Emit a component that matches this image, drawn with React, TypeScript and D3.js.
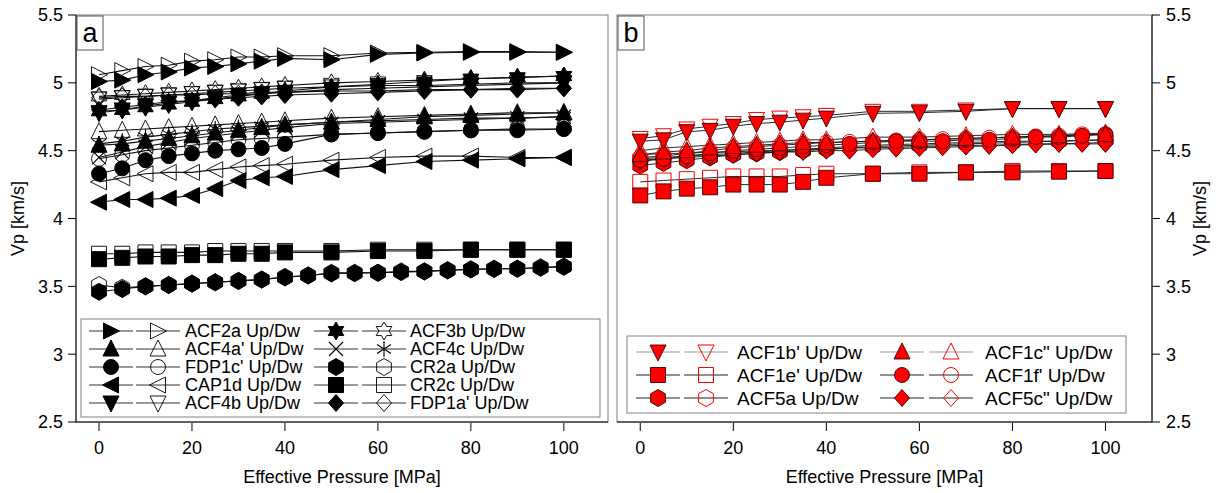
import React from 'react';
import * as d3 from 'd3';

// ---------- pressures ----------
const P_STD = [0, 5, 10, 15, 20, 25, 30, 35, 40, 50, 60, 70, 80, 90, 100];
const P_ALL = [0, 5, 10, 15, 20, 25, 30, 35, 40, 45, 50, 55, 60, 65, 70, 75, 80, 85, 90, 95, 100];

// ---------- panel a values (km/s) ----------
const ACF2a_up = [5.01, 5.02, 5.06, 5.08, 5.11, 5.12, 5.14, 5.16, 5.18, 5.17, 5.21, 5.22, 5.225, 5.225, 5.225];
const ACF2a_dw = [5.06, 5.09, 5.12, 5.13, 5.16, 5.17, 5.19, 5.19, 5.2, 5.2, 5.22, 5.225, 5.23, 5.23, 5.225];
const ACF4a_up = [4.54, 4.55, 4.57, 4.59, 4.61, 4.63, 4.65, 4.67, 4.69, 4.71, 4.73, 4.75, 4.76, 4.77, 4.78];
const ACF4a_dw = [4.64, 4.65, 4.66, 4.67, 4.68, 4.69, 4.7, 4.71, 4.72, 4.74, 4.75, 4.76, 4.77, 4.78, 4.78];
const FDP1c_up = [4.33, 4.37, 4.43, 4.46, 4.48, 4.5, 4.51, 4.52, 4.55, 4.62, 4.63, 4.64, 4.65, 4.65, 4.66];
const FDP1c_dw = [4.44, 4.47, 4.5, 4.52, 4.54, 4.56, 4.58, 4.59, 4.6, 4.62, 4.63, 4.64, 4.65, 4.66, 4.66];
const CAP1d_up = [4.12, 4.14, 4.14, 4.15, 4.17, 4.22, 4.28, 4.3, 4.31, 4.36, 4.39, 4.42, 4.43, 4.44, 4.45];
const CAP1d_dw = [4.27, 4.3, 4.33, 4.34, 4.34, 4.36, 4.38, 4.39, 4.4, 4.43, 4.45, 4.46, 4.46, 4.45, 4.45];
const ACF4b_up = [4.78, 4.8, 4.83, 4.85, 4.87, 4.89, 4.91, 4.92, 4.93, 4.95, 4.96, 4.97, 4.98, 4.99, 5.0];
const ACF4b_dw = [4.88, 4.89, 4.9, 4.91, 4.92, 4.93, 4.94, 4.95, 4.96, 4.97, 4.98, 4.98, 4.99, 5.0, 5.0];
const ACF3b_up = [4.79, 4.8, 4.82, 4.84, 4.86, 4.88, 4.9, 4.92, 4.94, 4.97, 4.99, 5.01, 5.03, 5.04, 5.05];
const ACF3b_dw = [4.9, 4.91, 4.92, 4.93, 4.94, 4.95, 4.96, 4.97, 4.98, 5.0, 5.01, 5.02, 5.03, 5.04, 5.05];
const ACF4c_up = [4.45, 4.49, 4.53, 4.56, 4.59, 4.61, 4.63, 4.65, 4.67, 4.7, 4.71, 4.72, 4.73, 4.74, 4.75];
const ACF4c_dw = [4.55, 4.57, 4.6, 4.62, 4.64, 4.66, 4.67, 4.68, 4.69, 4.71, 4.72, 4.73, 4.74, 4.74, 4.75];
const CR2a_up = [3.46, 3.48, 3.5, 3.51, 3.52, 3.53, 3.54, 3.55, 3.565, 3.58, 3.595, 3.597, 3.6, 3.605, 3.61, 3.617, 3.625, 3.628, 3.63, 3.637, 3.645];
const CR2a_dw = [3.51, 3.49, 3.5, 3.51, 3.52, 3.53, 3.54, 3.55, 3.57, 3.58, 3.6, 3.6, 3.6, 3.61, 3.61, 3.62, 3.625, 3.63, 3.63, 3.64, 3.645];
const CR2c_up = [3.7, 3.71, 3.72, 3.72, 3.73, 3.73, 3.74, 3.74, 3.75, 3.75, 3.76, 3.76, 3.77, 3.77, 3.77];
const CR2c_dw = [3.74, 3.74, 3.75, 3.75, 3.75, 3.76, 3.76, 3.76, 3.76, 3.76, 3.77, 3.77, 3.77, 3.77, 3.77];
const FDP1a_up = [4.8, 4.82, 4.84, 4.86, 4.87, 4.88, 4.89, 4.9, 4.91, 4.92, 4.93, 4.94, 4.95, 4.95, 4.96];
const FDP1a_dw = [4.89, 4.9, 4.9, 4.91, 4.91, 4.92, 4.92, 4.93, 4.93, 4.94, 4.94, 4.95, 4.95, 4.96, 4.96];

// ---------- panel b values (km/s) ----------
const ACF1b_up = [4.57, 4.58, 4.64, 4.65, 4.68, 4.7, 4.71, 4.725, 4.74, 4.775, 4.78, 4.79, 4.81, 4.81, 4.81];
const ACF1b_dw = [4.59, 4.61, 4.66, 4.68, 4.7, 4.73, 4.74, 4.75, 4.76, 4.79, 4.79, 4.8, 4.81, 4.81, 4.81];
const ACF1e_up = [4.17, 4.2, 4.22, 4.23, 4.25, 4.25, 4.25, 4.27, 4.3, 4.33, 4.33, 4.34, 4.34, 4.345, 4.35];
const ACF1e_dw = [4.27, 4.28, 4.29, 4.3, 4.31, 4.31, 4.31, 4.32, 4.33, 4.33, 4.34, 4.34, 4.35, 4.35, 4.35];
const ACF5a_up = [4.39, 4.41, 4.43, 4.45, 4.47, 4.48, 4.49, 4.5, 4.51, 4.53, 4.54, 4.55, 4.56, 4.57, 4.58];
const ACF5a_dw = [4.44, 4.45, 4.46, 4.47, 4.48, 4.49, 4.5, 4.51, 4.52, 4.54, 4.55, 4.56, 4.57, 4.57, 4.58];
const ACF1c_up = [4.47, 4.49, 4.5, 4.52, 4.53, 4.54, 4.55, 4.56, 4.56, 4.57, 4.58, 4.59, 4.6, 4.61, 4.62];
const ACF1c_dw = [4.5, 4.52, 4.53, 4.54, 4.55, 4.56, 4.57, 4.58, 4.58, 4.6, 4.6, 4.61, 4.62, 4.62, 4.63];
const ACF1f_up = [4.43, 4.44, 4.46, 4.48, 4.5, 4.51, 4.52, 4.53, 4.54, 4.55, 4.56, 4.57, 4.57, 4.57, 4.58, 4.58, 4.59, 4.6, 4.6, 4.61, 4.62];
const ACF1f_dw = [4.45, 4.46, 4.48, 4.5, 4.52, 4.53, 4.54, 4.55, 4.56, 4.565, 4.57, 4.575, 4.58, 4.585, 4.59, 4.595, 4.6, 4.605, 4.61, 4.62, 4.62];
const ACF5c_up = [4.42, 4.44, 4.45, 4.46, 4.47, 4.48, 4.49, 4.49, 4.5, 4.5, 4.51, 4.515, 4.52, 4.525, 4.53, 4.535, 4.54, 4.545, 4.55, 4.55, 4.55];
const ACF5c_dw = [4.47, 4.48, 4.48, 4.49, 4.49, 4.5, 4.5, 4.51, 4.51, 4.52, 4.52, 4.525, 4.53, 4.535, 4.54, 4.54, 4.545, 4.55, 4.55, 4.555, 4.56];

// ---------- ticks ----------
const Y_TICKS = [2.5, 3, 3.5, 4, 4.5, 5, 5.5];
const X_TICKS = [0, 20, 40, 60, 80, 100];

type Shape = 'triR' | 'triL' | 'triU' | 'triD' | 'circle' | 'square' | 'hex' | 'diamond' | 'star' | 'cross' | 'aster';

interface Series {
  label: string;
  p: number[];
  v: number[];
  shape: Shape;
  filled: boolean;
}

const seriesA: Series[] = [
  { label: 'ACF3b', p: P_STD, v: ACF3b_dw, shape: 'star', filled: false },
  { label: 'ACF3b', p: P_STD, v: ACF3b_up, shape: 'star', filled: true },
  { label: 'ACF4b', p: P_STD, v: ACF4b_dw, shape: 'triD', filled: false },
  { label: 'ACF4b', p: P_STD, v: ACF4b_up, shape: 'triD', filled: true },
  { label: 'FDP1a\'', p: P_STD, v: FDP1a_dw, shape: 'diamond', filled: false },
  { label: 'FDP1a\'', p: P_STD, v: FDP1a_up, shape: 'diamond', filled: true },
  { label: 'ACF2a', p: P_STD, v: ACF2a_dw, shape: 'triR', filled: false },
  { label: 'ACF2a', p: P_STD, v: ACF2a_up, shape: 'triR', filled: true },
  { label: 'ACF4a\'', p: P_STD, v: ACF4a_dw, shape: 'triU', filled: false },
  { label: 'ACF4a\'', p: P_STD, v: ACF4a_up, shape: 'triU', filled: true },
  { label: 'ACF4c', p: P_STD, v: ACF4c_dw, shape: 'aster', filled: false },
  { label: 'ACF4c', p: P_STD, v: ACF4c_up, shape: 'cross', filled: true },
  { label: 'FDP1c\'', p: P_STD, v: FDP1c_dw, shape: 'circle', filled: false },
  { label: 'FDP1c\'', p: P_STD, v: FDP1c_up, shape: 'circle', filled: true },
  { label: 'CAP1d', p: P_STD, v: CAP1d_dw, shape: 'triL', filled: false },
  { label: 'CAP1d', p: P_STD, v: CAP1d_up, shape: 'triL', filled: true },
  { label: 'CR2c', p: P_STD, v: CR2c_dw, shape: 'square', filled: false },
  { label: 'CR2c', p: P_STD, v: CR2c_up, shape: 'square', filled: true },
  { label: 'CR2a', p: P_ALL, v: CR2a_dw, shape: 'hex', filled: false },
  { label: 'CR2a', p: P_ALL, v: CR2a_up, shape: 'hex', filled: true },
];

const seriesB: Series[] = [
  { label: 'ACF1e\'', p: P_STD, v: ACF1e_dw, shape: 'square', filled: false },
  { label: 'ACF1e\'', p: P_STD, v: ACF1e_up, shape: 'square', filled: true },
  { label: 'ACF5a', p: P_STD, v: ACF5a_dw, shape: 'hex', filled: false },
  { label: 'ACF5a', p: P_STD, v: ACF5a_up, shape: 'hex', filled: true },
  { label: 'ACF5c"', p: P_ALL, v: ACF5c_dw, shape: 'diamond', filled: false },
  { label: 'ACF5c"', p: P_ALL, v: ACF5c_up, shape: 'diamond', filled: true },
  { label: 'ACF1f\'', p: P_ALL, v: ACF1f_dw, shape: 'circle', filled: false },
  { label: 'ACF1f\'', p: P_ALL, v: ACF1f_up, shape: 'circle', filled: true },
  { label: 'ACF1c"', p: P_STD, v: ACF1c_dw, shape: 'triU', filled: false },
  { label: 'ACF1c"', p: P_STD, v: ACF1c_up, shape: 'triU', filled: true },
  { label: 'ACF1b\'', p: P_STD, v: ACF1b_dw, shape: 'triD', filled: false },
  { label: 'ACF1b\'', p: P_STD, v: ACF1b_up, shape: 'triD', filled: true },
];

const legendA: { name: string; shape: Shape; shapeOpen: Shape }[][] = [
  [
    { name: 'ACF2a Up/Dw', shape: 'triR', shapeOpen: 'triR' },
    { name: 'ACF4a\' Up/Dw', shape: 'triU', shapeOpen: 'triU' },
    { name: 'FDP1c\' Up/Dw', shape: 'circle', shapeOpen: 'circle' },
    { name: 'CAP1d Up/Dw', shape: 'triL', shapeOpen: 'triL' },
    { name: 'ACF4b Up/Dw', shape: 'triD', shapeOpen: 'triD' },
  ],
  [
    { name: 'ACF3b Up/Dw', shape: 'star', shapeOpen: 'star' },
    { name: 'ACF4c Up/Dw', shape: 'cross', shapeOpen: 'aster' },
    { name: 'CR2a Up/Dw', shape: 'hex', shapeOpen: 'hex' },
    { name: 'CR2c Up/Dw', shape: 'square', shapeOpen: 'square' },
    { name: 'FDP1a\' Up/Dw', shape: 'diamond', shapeOpen: 'diamond' },
  ],
];

const legendB: { name: string; shape: Shape; grey: boolean }[][] = [
  [
    { name: 'ACF1b\' Up/Dw', shape: 'triD', grey: true },
    { name: 'ACF1e\' Up/Dw', shape: 'square', grey: false },
    { name: 'ACF5a Up/Dw', shape: 'hex', grey: false },
  ],
  [
    { name: 'ACF1c" Up/Dw', shape: 'triU', grey: true },
    { name: 'ACF1f\' Up/Dw', shape: 'circle', grey: false },
    { name: 'ACF5c" Up/Dw', shape: 'diamond', grey: false },
  ],
];

function shapePath(s: Shape, k = 1): string {
  const p = d3.path();
  const poly = (pts: [number, number][]) => {
    pts.forEach(([x, y], i) => (i === 0 ? p.moveTo(x * k, y * k) : p.lineTo(x * k, y * k)));
    p.closePath();
  };
  switch (s) {
    case 'triR':
      poly([[-7.5, -8], [8.5, 0], [-7.5, 8]]);
      break;
    case 'triL':
      poly([[7.5, -8], [-8.5, 0], [7.5, 8]]);
      break;
    case 'triU':
      poly([[0, -9], [8, 7], [-8, 7]]);
      break;
    case 'triD':
      poly([[0, 9], [8, -7], [-8, -7]]);
      break;
    case 'circle':
      p.arc(0, 0, 7.5 * k, 0, Math.PI * 2);
      p.closePath();
      break;
    case 'square':
      poly([[-7.5, -7.5], [7.5, -7.5], [7.5, 7.5], [-7.5, 7.5]]);
      break;
    case 'hex': {
      const pts: [number, number][] = [];
      for (let i = 0; i < 6; i++) {
        const a = -Math.PI / 2 + (i * Math.PI) / 3;
        pts.push([8.5 * Math.cos(a), 8.5 * Math.sin(a)]);
      }
      poly(pts);
      break;
    }
    case 'diamond':
      poly([[0, -8.5], [7.5, 0], [0, 8.5], [-7.5, 0]]);
      break;
    case 'star': {
      const pts: [number, number][] = [];
      for (let i = 0; i < 12; i++) {
        const a = -Math.PI / 2 + (i * Math.PI) / 6;
        const r = i % 2 === 0 ? 9 : 5.2;
        pts.push([r * Math.cos(a), r * Math.sin(a)]);
      }
      poly(pts);
      break;
    }
    case 'cross':
      p.moveTo(-7 * k, -7 * k);
      p.lineTo(7 * k, 7 * k);
      p.moveTo(-7 * k, 7 * k);
      p.lineTo(7 * k, -7 * k);
      break;
    case 'aster':
      p.moveTo(0, -8 * k);
      p.lineTo(0, 8 * k);
      p.moveTo(-7 * k, -4.5 * k);
      p.lineTo(7 * k, 4.5 * k);
      p.moveTo(-7 * k, 4.5 * k);
      p.lineTo(7 * k, -4.5 * k);
      break;
  }
  return p.toString();
}

const FONT = "'Liberation Sans', Arial, Helvetica, sans-serif";
const RED = '#ff0000';

function Marker({ x, y, shape, filled, red }: { x: number; y: number; shape: Shape; filled: boolean; red: boolean }) {
  const lineOnly = shape === 'cross' || shape === 'aster';
  let fill = 'none';
  let stroke = '#000';
  let sw = 1;
  if (red) {
    if (filled) {
      fill = RED;
      stroke = '#3a0000';
      sw = 0.9;
    } else {
      fill = 'none';
      stroke = RED;
      sw = 1;
    }
  } else {
    if (filled && !lineOnly) {
      fill = '#000';
      stroke = '#000';
    } else {
      fill = 'none';
      stroke = '#000';
      sw = lineOnly ? 1.1 : 0.9;
    }
  }
  return <path d={shapePath(shape)} transform={`translate(${x},${y})`} fill={fill} stroke={stroke} strokeWidth={sw} />;
}

function Panel({
  series,
  red,
  x0,
  x1,
  xDomain,
  yAxisRight,
  label,
}: {
  series: Series[];
  red: boolean;
  x0: number;
  x1: number;
  xDomain: [number, number];
  yAxisRight: boolean;
  label: string;
}) {
  const top = 15;
  const bottom = 422;
  const x = d3.scaleLinear().domain(xDomain).range([x0, x1]);
  const y = d3.scaleLinear().domain([2.5, 5.5]).range([bottom, top]);
  const line = d3
    .line<[number, number]>()
    .x((d) => x(d[0]))
    .y((d) => y(d[1]));
  const axisX = yAxisRight ? x1 : x0;
  const fmt = (v: number) => (Number.isInteger(v) ? String(v) : v.toFixed(1));
  return (
    <g>
      {/* frame */}
      <rect x={x0} y={top} width={x1 - x0} height={bottom - top} fill="none" stroke="#808080" strokeWidth={1} />
      {/* series lines */}
      {series.map((s, i) => (
        <path
          key={'l' + i}
          d={line(s.p.map((p, j) => [p, s.v[j]] as [number, number])) || ''}
          fill="none"
          stroke={red ? '#111' : '#111'}
          strokeWidth={red ? 0.9 : 1.1}
        />
      ))}
      {/* markers */}
      {series.map((s, i) => (
        <g key={'m' + i}>
          {s.p.map((p, j) => (
            <Marker key={j} x={x(p)} y={y(s.v[j])} shape={s.shape} filled={s.filled} red={red} />
          ))}
        </g>
      ))}
      {/* axes */}
      <line x1={axisX} x2={axisX} y1={top} y2={bottom} stroke="#000" strokeWidth={1} />
      <line x1={x0} x2={x1} y1={bottom} y2={bottom} stroke="#000" strokeWidth={1} />
      {Y_TICKS.map((t) => (
        <g key={'y' + t}>
          <line
            x1={axisX}
            x2={yAxisRight ? axisX + 8 : axisX - 8}
            y1={y(t)}
            y2={y(t)}
            stroke="#000"
            strokeWidth={1}
          />
          <text
            x={yAxisRight ? axisX + 14 : axisX - 13}
            y={y(t)}
            dy="0.36em"
            textAnchor={yAxisRight ? 'start' : 'end'}
            fontSize={18}
            fontFamily={FONT}
            fill="#000"
          >
            {fmt(t)}
          </text>
        </g>
      ))}
      {X_TICKS.map((t) => (
        <g key={'x' + t}>
          <line x1={x(t)} x2={x(t)} y1={bottom + 1} y2={bottom + 9} stroke="#000" strokeWidth={1} />
          <text x={x(t)} y={454} textAnchor="middle" fontSize={18} fontFamily={FONT} fill="#000">
            {t}
          </text>
        </g>
      ))}
      <text x={(x0 + x1) / 2} y={483} textAnchor="middle" fontSize={18} fontFamily={FONT} fill="#000">
        Effective Pressure [MPa]
      </text>
      <text
        transform={`translate(${yAxisRight ? 1206 : 24},${(top + bottom) / 2}) rotate(-90)`}
        textAnchor="middle"
        fontSize={18}
        fontFamily={FONT}
        fill="#000"
      >
        Vp [km/s]
      </text>
      {/* panel label */}
      <rect x={x0 + 1} y={top + 1} width={26} height={34} fill="#fff" stroke="#555" strokeWidth={1} />
      <text x={x0 + 14} y={top + 27} textAnchor="middle" fontSize={27} fontFamily={FONT} fill="#000">
        {label}
      </text>
    </g>
  );
}

function LegendA() {
  const rows = [331, 349, 367, 385, 403];
  const cols = [
    { filled: 111, open: 158, text: 185 },
    { filled: 336, open: 384, text: 410 },
  ];
  return (
    <g>
      <rect x={81} y={319} width={519} height={98} fill="#fff" stroke="#808080" strokeWidth={1} />
      {legendA.map((col, ci) =>
        col.map((e, ri) => {
          const c = cols[ci];
          const yy = rows[ri];
          return (
            <g key={ci + '-' + ri}>
              <line x1={c.filled - 22} x2={c.filled + 22} y1={yy} y2={yy} stroke="#333" strokeWidth={1} />
              <line x1={c.open - 22} x2={c.open + 22} y1={yy} y2={yy} stroke="#333" strokeWidth={1} />
              <Marker x={c.filled} y={yy} shape={e.shape} filled={true} red={false} />
              <Marker x={c.open} y={yy} shape={e.shapeOpen} filled={false} red={false} />
              <text x={c.text} y={yy} dy="0.36em" fontSize={18} fontFamily={FONT} fill="#000">
                {e.name}
              </text>
            </g>
          );
        })
      )}
    </g>
  );
}

function LegendB() {
  const rows = [352, 375, 398];
  const cols = [
    { filled: 658, open: 706, text: 737 },
    { filled: 902, open: 951, text: 985 },
  ];
  return (
    <g>
      <rect x={627} y={336} width={499} height={77} fill="#fff" stroke="#808080" strokeWidth={1} />
      {legendB.map((col, ci) =>
        col.map((e, ri) => {
          const c = cols[ci];
          const yy = rows[ri];
          const lc = e.grey ? '#999' : '#222';
          return (
            <g key={ci + '-' + ri}>
              <line x1={c.filled - 22} x2={c.filled + 22} y1={yy} y2={yy} stroke={lc} strokeWidth={1} />
              <line x1={c.open - 22} x2={c.open + 22} y1={yy} y2={yy} stroke={lc} strokeWidth={1} />
              <Marker x={c.filled} y={yy} shape={e.shape} filled={true} red={true} />
              <Marker x={c.open} y={yy} shape={e.shape} filled={false} red={true} />
              <text x={c.text} y={yy} dy="0.36em" fontSize={19} fontFamily={FONT} fill="#000">
                {e.name}
              </text>
            </g>
          );
        })
      )}
    </g>
  );
}

export default function App() {
  return (
    <svg width={1231} height={493} style={{ position: 'absolute', left: 0, top: 0, background: '#fff' }}>
      <rect x={0} y={0} width={1231} height={493} fill="#fff" />
      <Panel series={seriesA} red={false} x0={76} x1={608} xDomain={[-4.95, 109.5]} yAxisRight={false} label="a" />
      <LegendA />
      <Panel series={seriesB} red={true} x0={617} x1={1152} xDomain={[-5, 110]} yAxisRight={true} label="b" />
      <LegendB />
    </svg>
  );
}
